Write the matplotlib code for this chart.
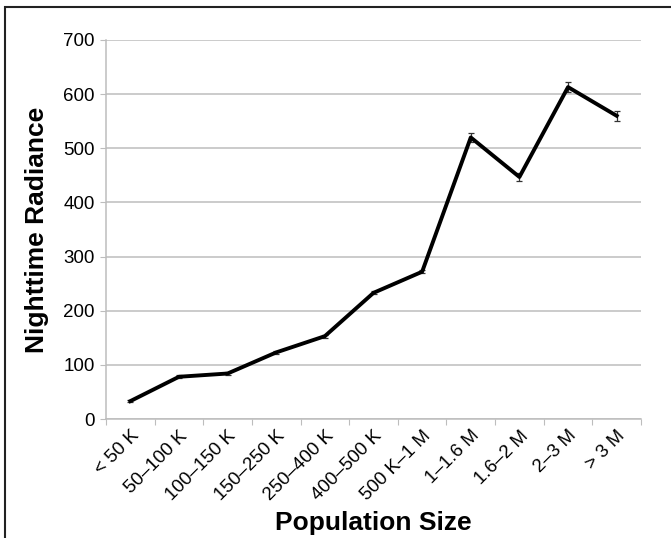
import numpy as np
import matplotlib.pyplot as plt
from matplotlib import font_manager
from matplotlib.patches import Rectangle

# categories and values
pop_sizes = ['< 50 K', '50\u2013100 K', '100\u2013150 K', '150\u2013250 K', '250\u2013400 K',
             '400\u2013500 K', '500 K\u20131 M', '1\u20131.6 M', '1.6\u20132 M', '2\u20133 M', '> 3 M']
radiance = [33, 78, 84, 123, 153, 233, 272, 520, 447, 613, 560]
radiance_err = [1.5, 2.5, 2.5, 3, 2.5, 3, 3, 8, 7, 9, 9]

names = {f.name for f in font_manager.fontManager.ttflist}
if 'Liberation Sans Narrow' in names:
    FONT = ['Liberation Sans Narrow', 'DejaVu Sans']
else:
    FONT = ['Liberation Sans', 'DejaVu Sans']
plt.rcParams['font.family'] = FONT

fig = plt.figure(figsize=(6.71, 5.38), dpi=100)
ax = fig.add_axes([106 / 671, 1 - 419 / 538, 535 / 671, 379 / 538])

x = np.arange(len(pop_sizes))
ax.errorbar(x, radiance, yerr=radiance_err, color='black', lw=2.8,
            ecolor='#333333', elinewidth=0.9, capsize=2.5, capthick=0.9, zorder=3)

ax.set_xlim(-0.5, len(pop_sizes) - 0.5)
ax.set_ylim(0, 700)
ax.set_yticks(range(0, 701, 100))
ax.yaxis.grid(True, color='#bdbdbd', lw=1.1)
ax.set_axisbelow(True)

for s in ['top', 'right']:
    ax.spines[s].set_visible(False)
for s in ['left', 'bottom']:
    ax.spines[s].set_color('#bdbdbd')
    ax.spines[s].set_linewidth(1.1)

# ticks sit on category boundaries, labels on category centres
ax.set_xticks(np.arange(len(pop_sizes) + 1) - 0.5)
ax.set_xticklabels([])
ax.set_xticks(x, minor=True)
ax.set_xticklabels(pop_sizes, minor=True, rotation=45, ha='right',
                   rotation_mode='anchor', fontsize=13.5)
ax.tick_params(axis='x', which='major', length=4, color='#bdbdbd', direction='out')
ax.tick_params(axis='x', which='minor', length=0, pad=6)
ax.tick_params(axis='y', length=4, color='#bdbdbd', labelsize=13.5, pad=4)

ax.set_ylabel('Nighttime Radiance', fontsize=19, fontweight='bold', labelpad=10)
fig.text(373 / 671, 1 - 523 / 538, 'Population Size', fontsize=19,
         fontweight='bold', ha='center', va='center')

# outer frame, open to the right and bottom as in the source image
fig.patches.append(Rectangle((5 / 671, -0.2), 1.2, 1.2 - 7 / 538, transform=fig.transFigure,
                             fill=False, edgecolor='#222222', lw=1.5))

fig.savefig('out.png', dpi=100)
